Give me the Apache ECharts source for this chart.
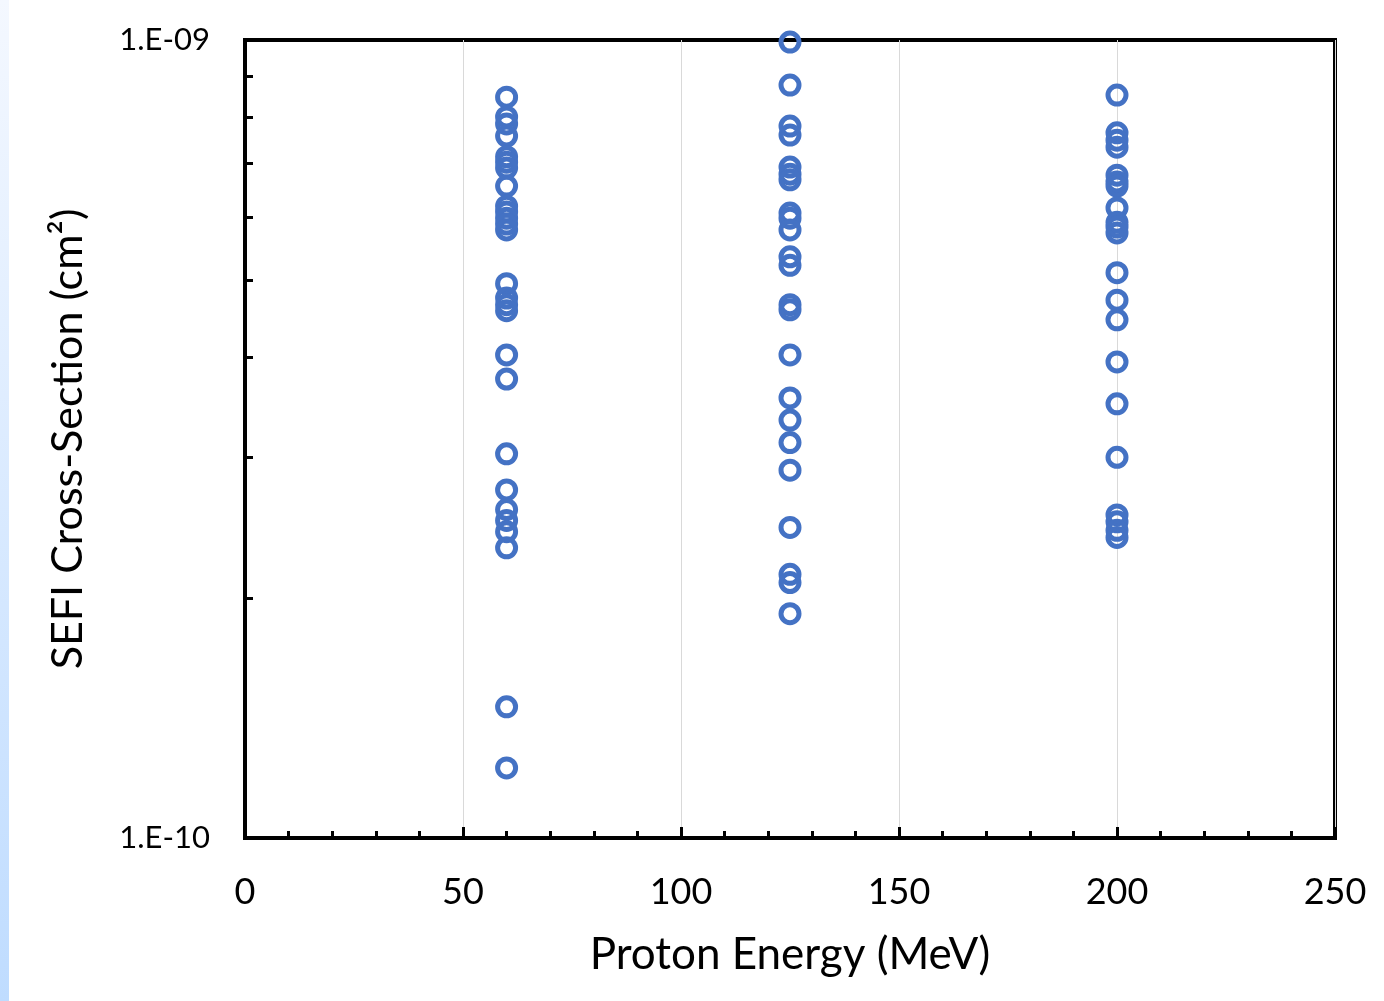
<!DOCTYPE html>
<html>
<head>
<meta charset="utf-8">
<script src="https://cdn.jsdelivr.net/npm/echarts@6/dist/echarts.min.js"></script>
<style>
  html, body { margin: 0; padding: 0; background: #fff; }
  #edge { position: absolute; left: 0; top: 0; width: 9px; height: 1001px;
          background: linear-gradient(#f4f8ff, #bfdcff); }
  #chart { position: absolute; left: 0; top: 0; width: 1384px; height: 1001px; }
</style>
</head>
<body>
<div id="edge"></div>
<div id="chart"></div>
<script>
// SEFI cross-section (cm^2) per proton energy (MeV)
const energies = [60, 125, 200];

const sefi60 = [
  8.48e-10, 8.01e-10, 7.85e-10, 7.58e-10, 7.14e-10, 7.03e-10, 6.91e-10,
  6.56e-10, 6.19e-10, 6.09e-10, 5.98e-10, 5.88e-10, 5.78e-10, 4.95e-10,
  4.75e-10, 4.66e-10, 4.58e-10, 4.03e-10, 3.76e-10, 3.03e-10, 2.73e-10,
  2.58e-10, 2.50e-10, 2.42e-10, 2.31e-10, 1.46e-10, 1.224e-10
];
const sefi125 = [
  9.94e-10, 8.78e-10, 7.80e-10, 7.60e-10, 6.93e-10, 6.79e-10, 6.68e-10,
  6.07e-10, 5.98e-10, 5.78e-10, 5.35e-10, 5.22e-10, 4.66e-10, 4.59e-10,
  4.03e-10, 3.56e-10, 3.34e-10, 3.13e-10, 2.89e-10, 2.45e-10, 2.14e-10,
  2.09e-10, 1.91e-10
];
const sefi200 = [
  8.53e-10, 7.65e-10, 7.49e-10, 7.34e-10, 6.77e-10, 6.64e-10, 6.56e-10,
  6.16e-10, 5.91e-10, 5.83e-10, 5.73e-10, 5.11e-10, 4.72e-10, 4.46e-10,
  3.95e-10, 3.50e-10, 3.00e-10, 2.54e-10, 2.49e-10, 2.43e-10, 2.38e-10
];

const yMinorTicks = [2e-10, 3e-10, 4e-10, 5e-10, 6e-10, 7e-10, 8e-10, 9e-10];

const points = [];
[sefi60, sefi125, sefi200].forEach((vals, i) => {
  vals.forEach((v) => points.push([energies[i], v]));
});

const chart = echarts.init(document.getElementById("chart"));
const font = "Lato, 'Open Sans', sans-serif";

chart.setOption({
  animation: false,
  grid: {
    left: 245, right: 49, top: 40, bottom: 163,
    show: true, borderColor: "#000", borderWidth: 4
  },
  xAxis: {
    type: "value",
    min: 0, max: 250, interval: 50,
    name: "Proton Energy (MeV)",
    nameLocation: "middle",
    nameGap: 95,
    nameTextStyle: { color: "#000", fontSize: 44, fontFamily: font },
    axisLine: { lineStyle: { color: "#000", width: 4 } },
    axisTick: { inside: true, length: 11, lineStyle: { color: "#000", width: 3 } },
    minorTick: { show: true, splitNumber: 5, length: 7, lineStyle: { color: "#000", width: 3 } },
    axisLabel: { color: "#000", fontSize: 36, fontFamily: font, margin: 36 },
    splitLine: { show: true, lineStyle: { color: "#d9d9d9", width: 1 } }
  },
  yAxis: {
    type: "log",
    logBase: 10,
    min: 1e-10, max: 1e-9,
    name: "SEFI Cross-Section (cm²)",
    nameLocation: "middle",
    nameGap: 155,
    nameTextStyle: { color: "#000", fontSize: 43, fontFamily: font },
    axisLine: { lineStyle: { color: "#000", width: 4 } },
    axisTick: {
      inside: true, length: 8, customValues: yMinorTicks,
      lineStyle: { color: "#000", width: 3 }
    },
    axisLabel: {
      color: "#000", fontSize: 31, fontFamily: font, margin: 35,
      formatter: (v) => (v < 3e-10 ? "1.E-10" : "1.E-09")
    },
    splitLine: { show: false }
  },
  series: [{
    type: "scatter",
    data: points,
    symbol: "circle",
    symbolSize: 18,
    itemStyle: {
      color: "rgba(0,0,0,0)", borderColor: "#4472c4", borderWidth: 5, opacity: 1
    }
  }]
});
</script>
</body>
</html>
